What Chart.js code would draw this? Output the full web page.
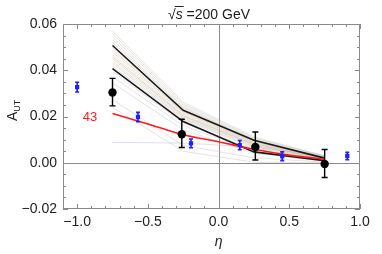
<!DOCTYPE html>
<html>
<head>
<meta charset="utf-8">
<script src="https://cdn.jsdelivr.net/npm/chart.js@4"></script>
<style>
  html, body { margin: 0; padding: 0; background: #fff; }
  #wrap { width: 382px; height: 254px; }
</style>
</head>
<body>
<div id="wrap"><canvas id="chart" width="382" height="254"></canvas></div>
<script>
// axis ticks
const xTicks = [-1.0, -0.5, 0.0, 0.5, 1.0];
const yTicks = [-0.02, 0.0, 0.02, 0.04, 0.06];

// data points (black: with error bars, blue: other measurement)
const blackEta = [-0.75, -0.26, 0.26, 0.75];
const blackA = [0.0304, 0.0123, 0.0068, -0.0005];
const blackLo = [0.0246, 0.0066, 0.0012, -0.0064];
const blackHi = [0.0365, 0.0188, 0.0133, 0.0057];

const blueEta = [-1.0, -0.57, -0.195, 0.15, 0.45, 0.91];
const blueA = [0.0327, 0.0198, 0.0084, 0.0076, 0.0028, 0.0029];
const blueErr = [0.0021, 0.0020, 0.0019, 0.0020, 0.0019, 0.0016];

// curves at the eta bins
const binEta = [-0.75, -0.25, 0.25, 0.75];
const upperCurve = [0.0507, 0.0227, 0.0097, 0.0020];
const lowerCurve = [0.0407, 0.0178, 0.0047, 0.0009];

const redEta = [-0.75, -0.5, -0.25, 0.0, 0.25, 0.5, 0.75];
const redCurve = [0.0213, 0.0168, 0.0121, 0.0091, 0.0058, 0.0033, 0.0015];

// band of replica curves
const bandCurves = [
  [0.0570, 0.0262, 0.0112, 0.0030],
  [0.0558, 0.0255, 0.0108, 0.0029],
  [0.0545, 0.0248, 0.0104, 0.0027],
  [0.0532, 0.0241, 0.0100, 0.0025],
  [0.0520, 0.0236, 0.0098, 0.0023],
  [0.0498, 0.0224, 0.0092, 0.0021],
  [0.0488, 0.0219, 0.0089, 0.0020],
  [0.0478, 0.0214, 0.0086, 0.0019],
  [0.0468, 0.0208, 0.0083, 0.0018],
  [0.0458, 0.0203, 0.0080, 0.0017],
  [0.0450, 0.0199, 0.0078, 0.0016],
  [0.0440, 0.0194, 0.0074, 0.0015],
  [0.0430, 0.0189, 0.0070, 0.0014],
  [0.0418, 0.0184, 0.0065, 0.0012],
  [0.0395, 0.0172, 0.0057, 0.0010],
  [0.0372, 0.0160, 0.0050, 0.0009],
  [0.0345, 0.0142, 0.0041, 0.0007],
  [0.0272, 0.0075, 0.0021, 0.0003],
  [0.0240, 0.0050, 0.0002, 0.0000],
  [0.0088, 0.0085, 0.0068, 0.0030]
];
const bandColors = [
  'rgba(190,190,190,0.4)', 'rgba(200,190,170,0.4)', 'rgba(190,190,190,0.4)',
  'rgba(185,185,195,0.4)', 'rgba(205,185,150,0.45)', 'rgba(190,190,190,0.4)',
  'rgba(210,175,120,0.45)', 'rgba(190,190,190,0.4)', 'rgba(195,190,185,0.4)',
  'rgba(215,170,110,0.5)', 'rgba(190,190,190,0.4)', 'rgba(185,185,195,0.4)',
  'rgba(205,185,150,0.45)', 'rgba(190,190,190,0.4)', 'rgba(190,190,190,0.4)',
  'rgba(190,190,190,0.4)', 'rgba(195,195,195,0.45)', 'rgba(200,200,200,0.5)',
  'rgba(200,200,200,0.5)', 'rgba(190,190,235,0.5)'
];

function pts(xs, ys) { return xs.map((x, i) => ({x: x, y: ys[i]})); }

const datasets = [];
bandCurves.forEach((c, i) => {
  datasets.push({
    data: pts(binEta, c), borderColor: bandColors[i], borderWidth: 1,
    pointRadius: 0, tension: 0, order: 50
  });
});
datasets.push({ data: pts(binEta, upperCurve), borderColor: '#1a1a1a', borderWidth: 1.6, pointRadius: 0, order: 10 });
datasets.push({ data: pts(binEta, lowerCurve), borderColor: '#1a1a1a', borderWidth: 1.6, pointRadius: 0, order: 10 });
datasets.push({ data: pts(redEta, redCurve), borderColor: '#ff1a1a', borderWidth: 1.6, pointRadius: 0, tension: 0.4, order: 5 });
datasets.push({ id: 'blue', data: pts(blueEta, blueA), showLine: false, pointStyle: 'rect',
  pointRadius: 3, backgroundColor: '#1f1fff', borderColor: '#1f1fff', borderWidth: 0, order: 2 });
datasets.push({ id: 'black', data: pts(blackEta, blackA), showLine: false, pointStyle: 'circle',
  pointRadius: 4.2, backgroundColor: '#000', borderColor: '#000', borderWidth: 0, order: 1 });

const FONT = '"Liberation Sans", Arial, sans-serif';

function fmt(v, digits) {
  const s = Math.abs(v).toFixed(digits);
  return (v < -1e-9 ? '\u2212' : '') + s;
}

const deco = {
  id: 'deco',
  beforeDatasetsDraw(chart) {
    const {ctx, chartArea: a, scales: {x, y}} = chart;
    ctx.save();
    ctx.strokeStyle = '#8a8a8a';
    ctx.lineWidth = 1;
    const x0 = Math.round(x.getPixelForValue(0)) + 0.5;
    const y0 = Math.round(y.getPixelForValue(0)) + 0.5;
    ctx.beginPath();
    ctx.moveTo(x0, a.top); ctx.lineTo(x0, a.bottom);
    ctx.moveTo(a.left, y0); ctx.lineTo(a.right, y0);
    ctx.stroke();
    ctx.restore();
  },
  beforeDatasetDraw(chart, args) {
    const ds = chart.data.datasets[args.index];
    const {ctx, scales: {x, y}} = chart;
    if (ds.id === 'black') {
      ctx.save();
      ctx.strokeStyle = '#000'; ctx.lineWidth = 1.4;
      blackEta.forEach((e, i) => {
        const px = x.getPixelForValue(e);
        const lo = y.getPixelForValue(blackLo[i]), hi = y.getPixelForValue(blackHi[i]);
        ctx.beginPath();
        ctx.moveTo(px, lo); ctx.lineTo(px, hi);
        ctx.moveTo(px - 3, lo); ctx.lineTo(px + 3, lo);
        ctx.moveTo(px - 3, hi); ctx.lineTo(px + 3, hi);
        ctx.stroke();
      });
      ctx.restore();
    }
    if (ds.id === 'blue') {
      ctx.save();
      ctx.strokeStyle = '#1f1fff'; ctx.lineWidth = 1.6;
      blueEta.forEach((e, i) => {
        const px = x.getPixelForValue(e);
        const lo = y.getPixelForValue(blueA[i] - blueErr[i]), hi = y.getPixelForValue(blueA[i] + blueErr[i]);
        ctx.beginPath();
        ctx.moveTo(px, lo); ctx.lineTo(px, hi);
        ctx.moveTo(px - 2, lo); ctx.lineTo(px + 2, lo);
        ctx.moveTo(px - 2, hi); ctx.lineTo(px + 2, hi);
        ctx.stroke();
      });
      ctx.restore();
    }
  },
  afterDatasetsDraw(chart) {
    const {ctx, chartArea: a, scales: {x, y}} = chart;
    ctx.save();
    ctx.strokeStyle = '#8a8a8a';
    ctx.lineWidth = 1;
    ctx.strokeRect(a.left + 0.5, a.top + 0.5, a.right - a.left - 1, a.bottom - a.top - 1);
    // x ticks, major every 0.5, minor every 0.1
    for (let k = -11; k <= 10; k++) {
      const v = k / 10;
      const px = Math.round(x.getPixelForValue(v)) + 0.5;
      const len = (k % 5 === 0) ? 5 : 3;
      ctx.beginPath();
      ctx.moveTo(px, a.bottom); ctx.lineTo(px, a.bottom - len);
      ctx.moveTo(px, a.top); ctx.lineTo(px, a.top + len);
      ctx.stroke();
    }
    // y ticks, major every 0.02, minor every 0.005
    for (let k = -4; k <= 12; k++) {
      const v = k * 0.005;
      const py = Math.round(y.getPixelForValue(v)) + 0.5;
      const len = (k % 4 === 0) ? 5 : 3;
      ctx.beginPath();
      ctx.moveTo(a.left, py); ctx.lineTo(a.left + len, py);
      ctx.moveTo(a.right, py); ctx.lineTo(a.right - len, py);
      ctx.stroke();
    }
    ctx.restore();
  },
  afterDraw(chart) {
    const {ctx, chartArea: a, scales: {x, y}} = chart;
    ctx.save();
    ctx.fillStyle = '#222';
    ctx.textBaseline = 'alphabetic';
    // title: sqrt(s) = 200 GeV
    ctx.font = '14px ' + FONT;
    let tx = 168, ty = 19;
    ctx.fillText('\u221A', tx, ty);
    const rw = ctx.measureText('\u221A').width;
    ctx.font = 'italic 14px ' + FONT;
    ctx.fillText('s', tx + rw, ty);
    const sw = ctx.measureText('s').width;
    ctx.strokeStyle = '#222'; ctx.lineWidth = 1;
    ctx.beginPath(); ctx.moveTo(tx + rw - 1, ty - 12.5); ctx.lineTo(tx + rw + sw + 1, ty - 12.5); ctx.stroke();
    ctx.font = '14px ' + FONT;
    ctx.fillText(' =200 GeV', tx + rw + sw, ty);
    // x axis title
    ctx.font = 'italic 14px ' + FONT;
    ctx.textAlign = 'center';
    ctx.fillText('\u03B7', x.getPixelForValue(0), 246);
    // y axis title A_UT
    ctx.translate(17, 112);
    ctx.rotate(-Math.PI / 2);
    ctx.textAlign = 'left';
    ctx.font = '14px ' + FONT;
    ctx.fillText('A', -9, 0);
    const aw = ctx.measureText('A').width;
    ctx.font = '9px ' + FONT;
    ctx.fillText('UT', -9 + aw, 3);
    ctx.setTransform(1, 0, 0, 1, 0, 0);
    // curve label
    ctx.fillStyle = '#ff1a1a';
    ctx.font = '13px ' + FONT;
    ctx.textAlign = 'center';
    ctx.fillText('43', 90, 121);
    ctx.restore();
  }
};

new Chart(document.getElementById('chart'), {
  type: 'line',
  data: { datasets: datasets },
  options: {
    responsive: false,
    animation: false,
    devicePixelRatio: 1,
    layout: { padding: { top: 24, right: 22, left: 0, bottom: 0 } },
    plugins: { legend: { display: false }, tooltip: { enabled: false } },
    elements: { line: { fill: false } },
    scales: {
      x: {
        type: 'linear', min: -1.1, max: 1.0,
        grid: { display: false, drawTicks: false },
        border: { display: false },
        afterBuildTicks: s => { s.ticks = xTicks.map(v => ({value: v})); },
        afterFit: s => { s.height = 45; },
        ticks: { padding: 5, color: '#222', font: { family: FONT, size: 14 },
          callback: v => fmt(v, 1), maxRotation: 0, autoSkip: false }
      },
      y: {
        type: 'linear', min: -0.02, max: 0.06,
        grid: { display: false, drawTicks: false },
        border: { display: false },
        afterBuildTicks: s => { s.ticks = yTicks.map(v => ({value: v})); },
        afterFit: s => { s.width = 63; },
        ticks: { padding: 6, color: '#222', font: { family: FONT, size: 14 },
          callback: v => fmt(v, 2), autoSkip: false }
      }
    }
  },
  plugins: [deco]
});
</script>
</body>
</html>
